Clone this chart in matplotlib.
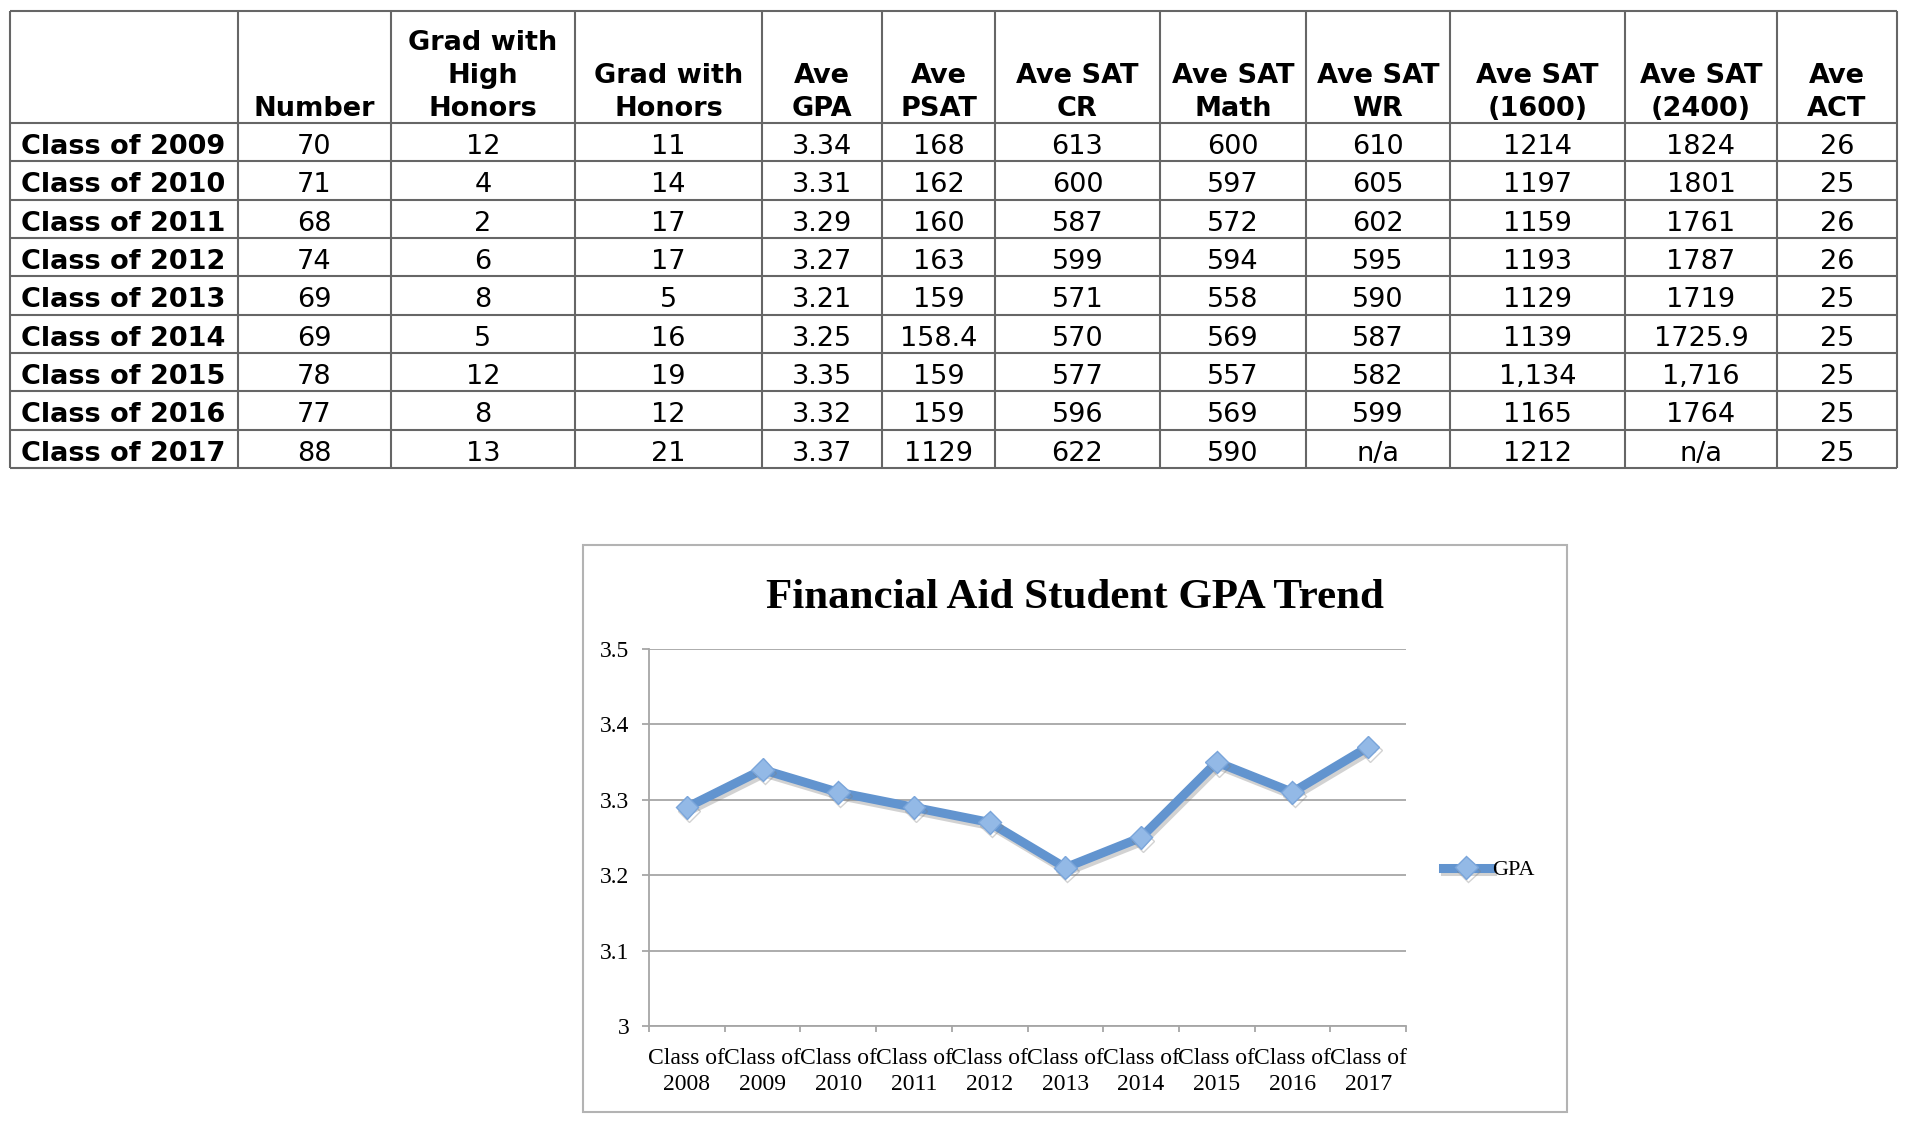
import matplotlib
matplotlib.use('Agg')
import matplotlib.pyplot as plt
import matplotlib.patheffects as pe
from matplotlib.patches import Rectangle
import numpy as np

# table data
row_labels = ['Class of 2009', 'Class of 2010', 'Class of 2011', 'Class of 2012', 'Class of 2013',
              'Class of 2014', 'Class of 2015', 'Class of 2016', 'Class of 2017']
col_headers = ['', 'Number', 'Grad with\nHigh\nHonors', 'Grad with\nHonors', 'Ave\nGPA', 'Ave\nPSAT',
               'Ave SAT\nCR', 'Ave SAT\nMath', 'Ave SAT\nWR', 'Ave SAT\n(1600)', 'Ave SAT\n(2400)', 'Ave\nACT']
number = ['70', '71', '68', '74', '69', '69', '78', '77', '88']
high_honors = ['12', '4', '2', '6', '8', '5', '12', '8', '13']
honors = ['11', '14', '17', '17', '5', '16', '19', '12', '21']
ave_gpa = ['3.34', '3.31', '3.29', '3.27', '3.21', '3.25', '3.35', '3.32', '3.37']
ave_psat = ['168', '162', '160', '163', '159', '158.4', '159', '159', '1129']
sat_cr = ['613', '600', '587', '599', '571', '570', '577', '596', '622']
sat_math = ['600', '597', '572', '594', '558', '569', '557', '569', '590']
sat_wr = ['610', '605', '602', '595', '590', '587', '582', '599', 'n/a']
sat_1600 = ['1214', '1197', '1159', '1193', '1129', '1139', '1,134', '1165', '1212']
sat_2400 = ['1824', '1801', '1761', '1787', '1719', '1725.9', '1,716', '1764', 'n/a']
ave_act = ['26', '25', '26', '26', '25', '25', '25', '25', '25']
table_cols = [number, high_honors, honors, ave_gpa, ave_psat, sat_cr, sat_math,
              sat_wr, sat_1600, sat_2400, ave_act]

# chart data
gpa_classes = ['Class of\n2008', 'Class of\n2009', 'Class of\n2010', 'Class of\n2011', 'Class of\n2012',
               'Class of\n2013', 'Class of\n2014', 'Class of\n2015', 'Class of\n2016', 'Class of\n2017']
gpa_values = [3.29, 3.34, 3.31, 3.29, 3.27, 3.21, 3.25, 3.35, 3.31, 3.37]

W, H = 1915, 1137
fig = plt.figure(figsize=(W / 100, H / 100), dpi=100)

# background axes in pixel units for the table and chart frame
bg = fig.add_axes([0, 0, 1, 1])
bg.set_xlim(0, W)
bg.set_ylim(H, 0)
bg.axis('off')

col_x = [10, 238, 391, 575, 762, 882, 995, 1160, 1306, 1450, 1625, 1777, 1897]
tab_top = 11
head_bot = 123
row_h = 38.33
row_y = [head_bot + row_h * i for i in range(len(row_labels) + 1)]
line_c = '#666666'

for y in [tab_top] + row_y:
    bg.plot([col_x[0], col_x[-1]], [y, y], color=line_c, lw=1.5, solid_capstyle='butt')
for x in col_x:
    bg.plot([x, x], [tab_top, row_y[-1]], color=line_c, lw=1.5, solid_capstyle='butt')

# header text, bottom aligned
line_sp = 33
for j, head in enumerate(col_headers):
    cx = (col_x[j] + col_x[j + 1]) / 2
    parts = head.split('\n')
    for k, part in enumerate(reversed(parts)):
        bg.text(cx, 109 - k * line_sp, part, ha='center', va='center',
                fontsize=19.5, fontweight='bold', family='DejaVu Sans')

for i, lab in enumerate(row_labels):
    cy = row_y[i] + row_h / 2 + 5
    bg.text(21, cy, lab, ha='left', va='center', fontsize=19.5, fontweight='bold', family='DejaVu Sans')
    for j, col in enumerate(table_cols):
        cx = (col_x[j + 1] + col_x[j + 2]) / 2
        bg.text(cx, cy, col[i], ha='center', va='center', fontsize=19.5, family='DejaVu Sans')

# chart frame and title
bg.add_patch(Rectangle((583, 545), 1567 - 583, 1112 - 545, fill=False, ec='#b3b3b3', lw=1.5))
bg.text(1075, 598, 'Financial Aid Student GPA Trend', ha='center', va='center',
        fontsize=31, fontweight='bold', family='Liberation Serif')

# line chart
serif = 'Liberation Serif'
grid_c = '#a6a6a6'
blue = '#6294cf'
ax = fig.add_axes([649 / W, 1 - 1026 / H, (1406 - 649) / W, (1026 - 649) / H])
xs = np.arange(len(gpa_values))
ax.plot(xs, gpa_values, color=blue, lw=6.5, marker='D', ms=11.5,
        mfc='#93b9e6', mec='#7aa5da', mew=1, label='GPA', zorder=3,
        path_effects=[pe.SimpleLineShadow(offset=(1.5, -2.5), shadow_color='gray', alpha=0.35), pe.Normal()])
ax.set_xlim(-0.5, len(gpa_values) - 0.5)
ax.set_ylim(3.0, 3.5)
yt = [3.0, 3.1, 3.2, 3.3, 3.4, 3.5]
ax.set_yticks(yt)
ax.set_yticklabels(['3', '3.1', '3.2', '3.3', '3.4', '3.5'], family=serif, fontsize=17)
ax.yaxis.grid(True, color=grid_c, lw=1.3)
ax.set_axisbelow(True)
for s in ['top', 'right']:
    ax.spines[s].set_visible(False)
for s in ['left', 'bottom']:
    ax.spines[s].set_color(grid_c)
    ax.spines[s].set_linewidth(1.3)
ax.tick_params(axis='y', length=5, color=grid_c, width=1.3, pad=9)
ax.set_xticks(xs)
ax.set_xticklabels(gpa_classes, family=serif, fontsize=17, linespacing=1.3)
ax.set_xticks(np.arange(-0.5, len(gpa_values), 1), minor=True)
ax.tick_params(axis='x', which='major', length=0, pad=16)
ax.tick_params(axis='x', which='minor', length=4.5, color=grid_c, width=1.3)

ax.legend(loc='center left', bbox_to_anchor=(1443 / W, 1 - 870 / H), bbox_transform=fig.transFigure,
          frameon=False, handlelength=2.1, handletextpad=0.1, borderpad=0, borderaxespad=0,
          prop={'family': serif, 'size': 16})

fig.savefig('out.png', dpi=100, facecolor='white')
